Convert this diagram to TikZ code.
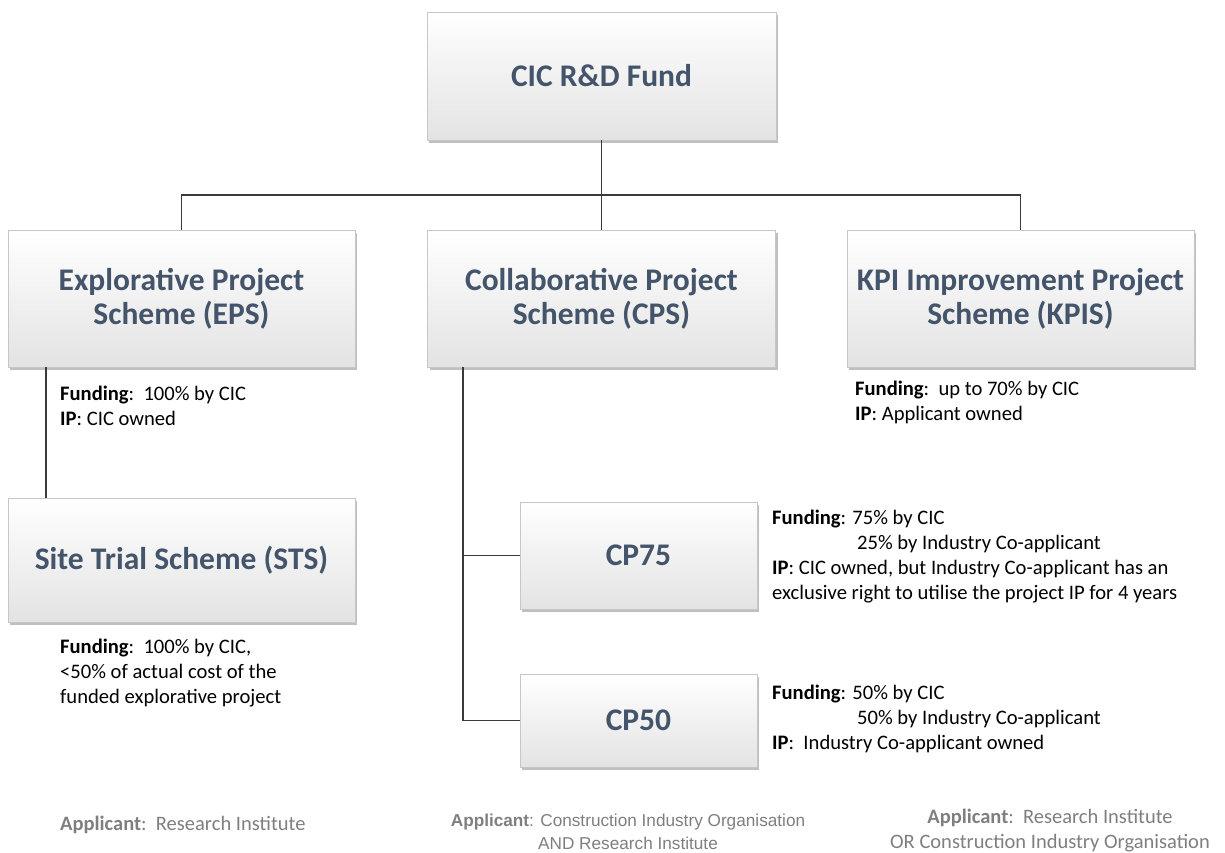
\documentclass[tikz,border=0pt]{standalone}
\usepackage{fontspec}
\setmainfont{Carlito}
\newfontfamily\arialfont{Liberation Sans}
\usetikzlibrary{shadows}
\definecolor{headc}{HTML}{44546A}
\definecolor{linec}{HTML}{3A3A3A}
\definecolor{grayt}{HTML}{7F7F7F}
\tikzset{
  box/.style={rectangle, draw=black!22, line width=0.6pt, top color=white, bottom color=black!11,
    drop shadow={shadow xshift=2pt, shadow yshift=-3pt, opacity=0.45, fill=black!55},
    text=headc, font=\bfseries\fontsize{31.5}{34}\selectfont, align=center, inner sep=0pt},
  conn/.style={draw=linec, line width=1.9pt},
  note/.style={anchor=base west, align=left, inner sep=0pt, font=\fontsize{20.6}{25}\selectfont, text=black},
  appl/.style={inner sep=0pt, text=grayt, align=center},
}
\begin{document}
\begin{tikzpicture}[x=1pt,y=-1pt]
\useasboundingbox (0,0) rectangle (1225,852);
\fill[white] (0,0) rectangle (1225,852);
% boxes
\node[box, minimum width=349pt, minimum height=128pt] (fund) at (601.5,76) {CIC R\&D Fund};
\node[box, minimum width=347pt, minimum height=137pt] (eps) at (181.5,298.5) {Explorative Project\\Scheme (EPS)};
\node[box, minimum width=348pt, minimum height=137pt] (cps) at (601.5,298.5) {Collaborative Project\\Scheme (CPS)};
\node[box, minimum width=347pt, minimum height=137pt] (kpis) at (1020.5,298.5) {KPI Improvement Project\\Scheme (KPIS)};
\node[box, minimum width=347pt, minimum height=124pt] (sts) at (181.5,560) {Site Trial Scheme (STS)};
\node[box, minimum width=237pt, minimum height=107pt] (cp75) at (638.5,555.5) {CP75};
\node[box, minimum width=237pt, minimum height=93pt] (cp50) at (638.5,720.5) {CP50};
% connectors
\coordinate (j) at (601.5,195);
\draw[conn] (fund.south) -- (j);
\draw[conn] (eps.north) |- (j) -| (kpis.north);
\draw[conn] (j) -- (cps.north);
\draw[conn] ([xshift=38pt]eps.south west) -- ([xshift=38pt]sts.north west);
\coordinate (cpstop) at ([xshift=36pt]cps.south west);
\coordinate (b75) at (cpstop |- cp75.west);
\draw[conn] (cpstop) |- (cp50.west);
\draw[conn] (b75) -- (cp75.west);
% notes (anchor = baseline of last line)
\node[note] (neps) at (60,425) {\textbf{Funding}:\ \ 100\% by CIC\\\textbf{IP}: CIC owned};
\node[note] (nkpis) at (855,420) {\textbf{Funding}:\ \ up to 70\% by CIC\\\textbf{IP}: Applicant owned};
\node[note] (nsts) at (60,703) {\textbf{Funding}:\ \ 100\% by CIC,\\<50\% of actual cost of the\\funded explorative project};
\node[note] (n75) at (772,599) {\textbf{Funding}: 75\% by CIC\\\hspace*{85pt}25\% by Industry Co-applicant\\\textbf{IP}: CIC owned, but Industry Co-applicant has an\\exclusive right to utilise the project IP for 4 years};
\node[note] (n50) at (772,749) {\textbf{Funding}: 50\% by CIC\\\hspace*{85pt}50\% by Industry Co-applicant\\\textbf{IP}:\ \ Industry Co-applicant owned};
% applicants
\node[appl, anchor=base west, font=\fontsize{20.5}{25}\selectfont] (a1) at (60,830) {\textbf{Applicant}:\ \ Research Institute};
\node[appl, anchor=base, font=\arialfont\fontsize{17.2}{23}\selectfont] (a2) at (628,849) {\textbf{Applicant}: Construction Industry Organisation\\AND Research Institute};
\node[appl, anchor=base, font=\fontsize{20.5}{25}\selectfont] (a3) at (1050,848) {\textbf{Applicant}:\ \ Research Institute\\OR Construction Industry Organisation};
\end{tikzpicture}
\end{document}
